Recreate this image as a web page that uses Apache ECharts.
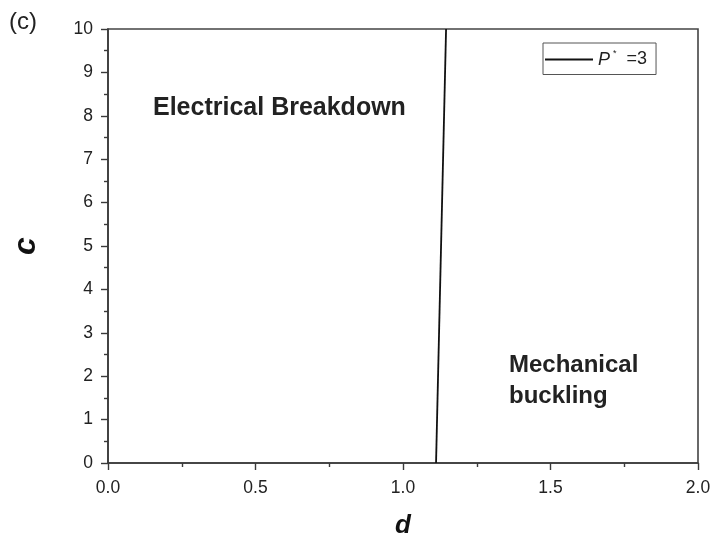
<!DOCTYPE html>
<html><head><meta charset="utf-8">
<script src="https://cdn.jsdelivr.net/npm/echarts@6/dist/echarts.min.js"></script>
<style>html,body{margin:0;padding:0;background:#fff}#c{width:714px;height:543px}</style>
</head><body><div id="c"></div>
<script>
const lineX = [1.112, 1.146];
const lineY = [0, 10];
const xTicks = [0.0, 0.5, 1.0, 1.5, 2.0];
const yTicks = [0,1,2,3,4,5,6,7,8,9,10];
const seriesName = 'P* =3';

const chart = echarts.init(document.getElementById('c'));
const font = 'Liberation Sans, Arial, sans-serif';
const axisCommon = {
  axisLine: {show: true, lineStyle: {color: '#3a3a3a', width: 1.6}},
  axisTick: {show: true, inside: false, length: 7, lineStyle: {color: '#3a3a3a', width: 1.4}},
  minorTick: {show: true, splitNumber: 2, length: 4, lineStyle: {color: '#3a3a3a', width: 1.4}},
  splitLine: {show: false},
  axisLabel: {color: '#222', fontSize: 17.5, fontFamily: font}
};
chart.setOption({
  animation: false,
  grid: {left: 108, right: 16, top: 29, bottom: 80, show: true, borderColor: '#444', borderWidth: 1.6, containLabel: false, outerBoundsMode: 'none'},
  xAxis: Object.assign({}, axisCommon, {
    type: 'value', min: 0, max: 2, interval: 0.5,
    axisLabel: Object.assign({}, axisCommon.axisLabel, {margin: 16, formatter: v => v.toFixed(1)}),
    name: 'd', nameLocation: 'middle', nameGap: 50,
    nameTextStyle: {fontSize: 26, fontWeight: 'bold', fontStyle: 'italic', fontFamily: font, color: '#111'}
  }),
  yAxis: Object.assign({}, axisCommon, {
    type: 'value', min: 0, max: 10, interval: 1,
    axisLabel: Object.assign({}, axisCommon.axisLabel, {margin: 15}),
    name: 'c', nameLocation: 'middle', nameGap: 66, nameRotate: 90,
    nameTextStyle: {fontSize: 32, fontWeight: 'bold', fontStyle: 'italic', fontFamily: font, color: '#111'}
  }),
  legend: {
    show: true, left: 543, top: 43, orient: 'vertical',
    itemWidth: 48, itemHeight: 2, itemGap: 0,
    padding: [6, 9, 6, 2], borderColor: '#555', borderWidth: 1,
    icon: 'rect',
    data: [seriesName],
    formatter: () => '{p|P}{s|*}{t|  =3}',
    textStyle: {
      rich: {
        p: {fontSize: 18, fontStyle: 'italic', fontFamily: font, color: '#222'},
        s: {fontSize: 9, fontFamily: font, color: '#222', verticalAlign: 'top', padding: [0, 0, 12, 3]},
        t: {fontSize: 18, fontFamily: font, color: '#222'}
      }
    }
  },
  series: [{
    name: seriesName, type: 'line', symbol: 'none',
    data: lineX.map((x, i) => [x, lineY[i]]),
    lineStyle: {color: '#111', width: 1.8},
    itemStyle: {color: '#111'}
  }],
  graphic: [
    {type: 'text', left: 9, top: 10, style: {text: '(c)', fontSize: 24, fontFamily: font, fill: '#222'}},
    {type: 'text', left: 153, top: 96, style: {text: 'Electrical Breakdown', fontSize: 25, fontWeight: 'bold', fontFamily: font, fill: '#222'}},
    {type: 'text', left: 509, top: 350, style: {text: 'Mechanical\nbuckling', fontSize: 24, fontWeight: 'bold', fontFamily: font, fill: '#222', lineHeight: 31}}
  ]
});
</script></body></html>
